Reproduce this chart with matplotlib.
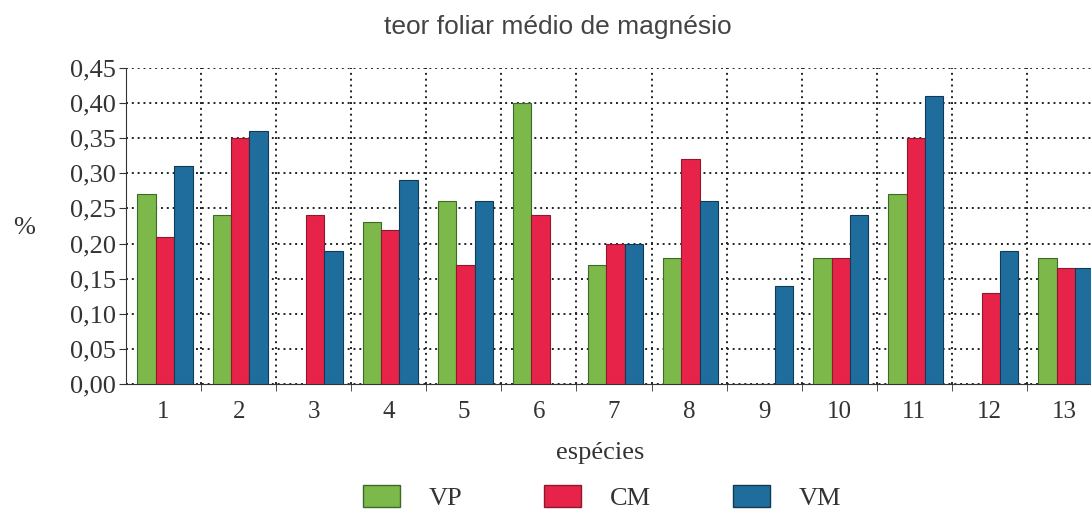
import matplotlib
matplotlib.use('Agg')
import matplotlib.pyplot as plt
from matplotlib.patches import Patch
import numpy as np

# leaf magnesium content (%) per species
species = ['1', '2', '3', '4', '5', '6', '7', '8', '9', '10', '11', '12', '13']
vp = [0.27, 0.24, 0.00, 0.23, 0.26, 0.40, 0.17, 0.18, 0.00, 0.18, 0.27, 0.00, 0.18]
cm = [0.21, 0.35, 0.24, 0.22, 0.17, 0.24, 0.20, 0.32, 0.00, 0.18, 0.35, 0.13, 0.165]
vm = [0.31, 0.36, 0.19, 0.29, 0.26, 0.00, 0.20, 0.26, 0.14, 0.24, 0.41, 0.19, 0.165]
series_names = ['VP', 'CM', 'VM']
colors = ['#7cb84a', '#e8234a', '#1f6d9c']
edges = ['#3c6b28', '#8a1a2c', '#123a55']
yticks = [0.0, 0.05, 0.10, 0.15, 0.20, 0.25, 0.30, 0.35, 0.40, 0.45]

serif = 'Liberation Serif'
sans = 'Liberation Sans'

fig = plt.figure(figsize=(10.91, 5.16), dpi=100)
ax = fig.add_axes([0.1155, 0.2558, 0.8946, 0.6124])

x = np.arange(1, len(species) + 1)
w = 0.245
for i, vals in enumerate([vp, cm, vm]):
    ax.bar(x + (i - 1) * w + 0.02, vals, width=w, color=colors[i],
           edgecolor=edges[i], linewidth=0.8, zorder=3)

ax.set_xlim(0.5, len(species) + 0.5)
ax.set_ylim(0, 0.45)
ax.set_yticks(yticks)
ax.set_yticklabels([('%.2f' % v).replace('.', ',') for v in yticks],
                   fontfamily=serif, fontsize=19, color='#333333')

ax.set_xticks(x)
ax.set_xticklabels(species, fontfamily=serif, fontsize=18, color='#333333')
ax.set_xticks(np.arange(1.5, len(species) + 0.5), minor=True)
ax.tick_params(axis='x', which='major', length=0, pad=12)
ax.tick_params(axis='x', which='minor', length=5, direction='out', color='#333333')
ax.tick_params(axis='y', length=5, direction='out', color='#333333', pad=2)

ax.grid(False)
ax.yaxis.grid(True, linestyle=(0, (1, 2)), color='#222222', linewidth=1.4, zorder=0)
ax.xaxis.grid(True, which='minor', linestyle=(0, (1, 2)), color='#222222',
              linewidth=1.4, zorder=0)
ax.set_axisbelow(True)
for s in ['top', 'right']:
    ax.spines[s].set_visible(False)
ax.spines['left'].set_color('#333333')
ax.spines['bottom'].set_color('#333333')

fig.text(0.511, 0.948, 'teor foliar médio de magnésio', ha='center', va='center',
         fontfamily=sans, fontsize=19, color='#444444')
fig.text(0.022, 0.558, '%', ha='center', va='center', fontfamily=serif,
         fontsize=19, color='#333333')
fig.text(0.55, 0.122, 'espécies', ha='center', va='center', fontfamily=serif,
         fontsize=19, color='#333333')

handles = [Patch(facecolor=colors[i], edgecolor=edges[i], label=series_names[i])
           for i in range(3)]
leg = fig.legend(handles=handles, loc='center', bbox_to_anchor=(0.552, 0.035),
                 ncol=3, frameon=False, handlelength=1.4, handleheight=0.9,
                 handletextpad=1.1, columnspacing=3.1,
                 prop={'family': serif, 'size': 19})
for t in leg.get_texts():
    t.set_color('#333333')

fig.savefig('out.png', dpi=100)
